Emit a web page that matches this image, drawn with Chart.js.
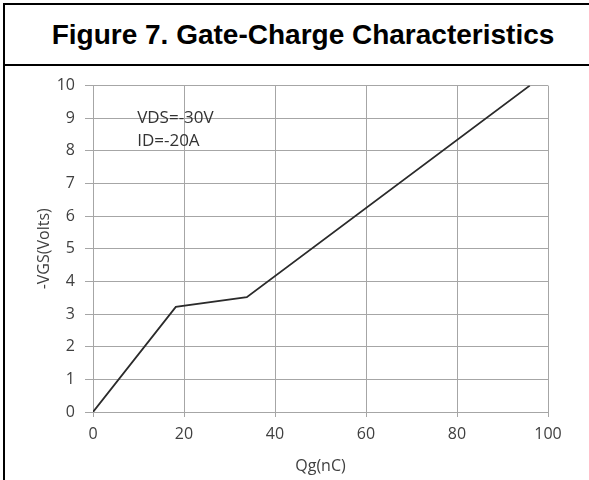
<!DOCTYPE html>
<html>
<head>
<meta charset="utf-8">
<script src="https://cdn.jsdelivr.net/npm/chart.js@4/dist/chart.umd.min.js"></script>
<style>
    html, body { margin: 0; padding: 0; background: #fff; overflow: hidden; }
    #frame {
        position: absolute; left: 3px; top: 3px; width: 700px; height: 600px;
        border-left: 2px solid #000; border-top: 2px solid #000;
    }
    #header {
        height: 59px; border-bottom: 2px solid #000;
        font: bold 28px "Liberation Sans", Arial, sans-serif;
        line-height: 59px; width: 596px; text-align: center; color: #000;
    }
    #wrap { position: absolute; left: 0; top: 61px; width: 584px; height: 414px; }
</style>
</head>
<body>
<div id="frame">
    <div id="header">Figure 7. Gate-Charge Characteristics</div>
    <div id="wrap"><canvas id="chart" width="584" height="414"></canvas></div>
</div>
<script>
// Gate charge curve
const qg = [0, 18.2, 33.8, 96];
const vgs = [0, 3.22, 3.52, 10];
const xTicks = [0, 20, 40, 60, 80, 100];
const yTicks = [0, 1, 2, 3, 4, 5, 6, 7, 8, 9, 10];
const notes = ['VDS=-30V', 'ID=-20A'];
const noteX = [9.7, 9.7];
const noteY = [9.0, 8.3];

const tickFont = { family: '"Open Sans", sans-serif', size: 16 };
const gridColor = '#a6a6a6';

/**
 * Draw the test condition text inside the plot
 */
const notesPlugin = {
    id: 'notes',
    afterDatasetsDraw(chart) {
        const ctx = chart.ctx;
        const x = chart.scales.x;
        const y = chart.scales.y;
        ctx.save();
        ctx.font = '17px "Open Sans", sans-serif';
        ctx.fillStyle = '#333';
        ctx.textBaseline = 'middle';
        notes.forEach((t, i) => {
            ctx.fillText(t, x.getPixelForValue(noteX[i]), y.getPixelForValue(noteY[i]));
        });
        ctx.restore();
    }
};

new Chart(document.getElementById('chart').getContext('2d'), {
    type: 'scatter',
    data: {
        datasets: [{
            data: qg.map((v, i) => ({ x: v, y: vgs[i] })),
            showLine: true,
            borderColor: '#2b2b2b',
            borderWidth: 1.8,
            pointRadius: 0,
            tension: 0
        }]
    },
    options: {
        responsive: false,
        animation: false,
        layout: { padding: { top: 13, right: 41, left: 28, bottom: 0 } },
        plugins: { legend: { display: false }, tooltip: { enabled: false } },
        scales: {
            x: {
                min: 0, max: 100,
                afterBuildTicks: s => { s.ticks = xTicks.map(v => ({ value: v })); },
                afterFit: s => { s.height = 68; },
                grid: { color: gridColor, tickLength: 5 },
                border: { color: gridColor },
                ticks: { color: '#404040', font: tickFont, padding: 8, maxRotation: 0 },
                title: { display: true, text: 'Qg(nC)', color: '#404040', font: tickFont, padding: { top: 0 } }
            },
            y: {
                min: 0, max: 10,
                afterBuildTicks: s => { s.ticks = yTicks.map(v => ({ value: v })); },
                afterFit: s => { s.width = 60; },
                grid: { color: gridColor, tickLength: 8 },
                border: { color: gridColor },
                ticks: { color: '#404040', font: tickFont, padding: 10 },
                title: { display: true, text: '-VGS(Volts)', color: '#404040', font: tickFont, padding: { top: 2, bottom: 0 } }
            }
        }
    },
    plugins: [notesPlugin]
});
</script>
</body>
</html>
